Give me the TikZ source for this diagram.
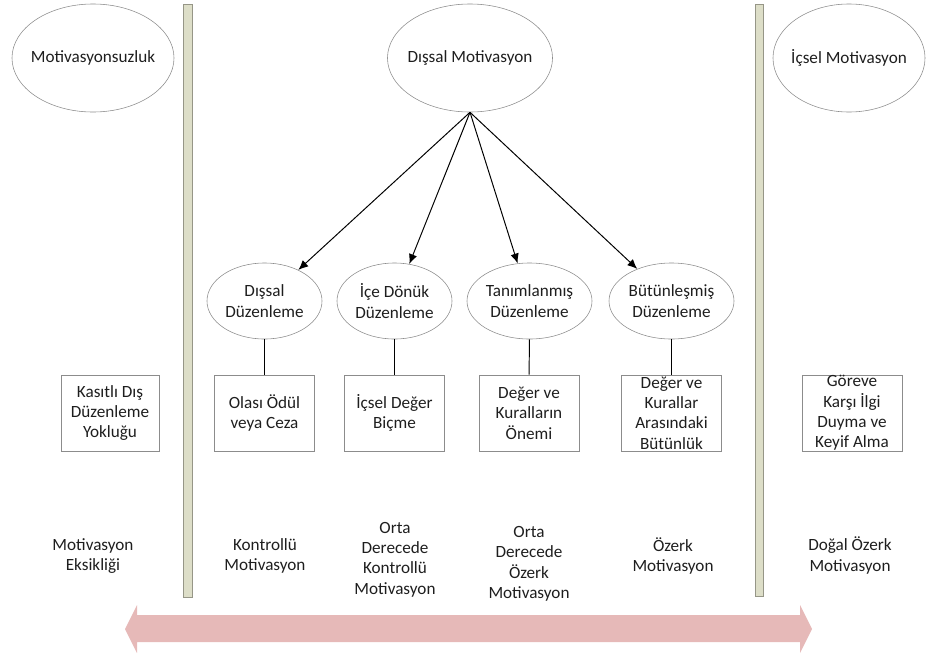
\documentclass[tikz,border=0pt]{standalone}
\usepackage{fontspec}
\setmainfont{Carlito}
\usetikzlibrary{shapes.geometric,arrows.meta}
\definecolor{barfill}{RGB}{221,222,200}
\definecolor{barline}{RGB}{150,150,135}
\definecolor{shapeline}{RGB}{140,140,140}
\definecolor{scalefill}{RGB}{230,185,184}
\definecolor{textcol}{RGB}{30,30,30}
\newcommand{\myfontlabel}{\fontsize{12.2}{14.5}\selectfont}
\begin{document}
\begin{tikzpicture}[x=0.025cm,y=-0.025cm,
	bigoval/.style={ellipse,draw=shapeline,inner xsep=-0.3cm,inner ysep=0pt,minimum width=4.05cm,minimum height=2.7cm},
	smalloval/.style={ellipse,draw=shapeline,inner sep=0pt,minimum width=2.875cm,minimum height=1.9cm,align=center},
	valuebox/.style={rectangle,draw=shapeline,inner sep=0pt,minimum width=2.5cm,minimum height=1.9cm,align=center},
	levellabel/.style={align=center,inner sep=0pt},
	link/.style={line width=0.7pt},
	every node/.style={text=textcol,font=\myfontlabel}]
			%Outer frame
			\useasboundingbox (0,0) rectangle (926,658);
			%Vertical separator bars
			\filldraw[fill=barfill,draw=barline] (183,4) rectangle (192,597);
			\filldraw[fill=barfill,draw=barline] (755,4) rectangle (763,596);
			%The scale arrow at the bottom
			\coordinate (sl) at (125,629);
			\coordinate (sr) at (812,629);
			\fill[scalefill] (sl) -- (137,605) -- (137,615) -- (800,615) -- (800,605) -- (sr)
				-- (800,653) -- (800,642) -- (137,642) -- (137,653) -- cycle;
			%Top row
			\coordinate (top0) at (93,58);
			\coordinate (top1) at (470,58);
			\coordinate (top2) at (849,58);
			\node [bigoval] (amot) at (top0) {Motivasyonsuzluk};
			\node [bigoval,minimum width=4.125cm] (dmot) at (top1) {Dışsal Motivasyon};
			\node [bigoval,minimum width=3.8cm] (imot) at (top2) {İçsel Motivasyon};
			%Regulation types
			\coordinate (reg1) at (264.5,301);
			\coordinate (reg2) at (394.5,301);
			\coordinate (reg3) at (529.5,301);
			\coordinate (reg4) at (671.5,301);
			\node [smalloval] (dreg) at (reg1) {Dışsal\\Düzenleme};
			\node [smalloval] (icreg) at (reg2) {İçe Dönük\\Düzenleme};
			\node [smalloval,minimum width=3.125cm] (treg) at (reg3) {Tanımlanmış\\Düzenleme};
			\node [smalloval,minimum width=3.125cm] (breg) at (reg4) {Bütünleşmiş\\Düzenleme};
			%Arrows from the outer motivation
			\draw [link,-{Latex[length=7pt,width=6pt]}] (dmot.south) -- (dreg);
			\draw [link,-{Latex[length=7pt,width=6pt]}] (dmot.south) -- (icreg);
			\draw [link,-{Latex[length=7pt,width=6pt]}] (dmot.south) -- (treg);
			\draw [link,-{Latex[length=7pt,width=6pt]}] (dmot.south) -- (breg);
			%Boxes
			\coordinate (box0) at (110,413);
			\coordinate (box1) at (264.5,413);
			\coordinate (box2) at (394.5,413);
			\coordinate (box3) at (529,413);
			\coordinate (box4) at (671.5,413);
			\coordinate (box5) at (852,413);
			\node [valuebox,minimum width=2.45cm] (kasit) at (box0) {Kasıtlı Dış\\Düzenleme\\Yokluğu};
			\node [valuebox] (odul) at (box1) {Olası Ödül\\veya Ceza};
			\node [valuebox] (deger) at (box2) {İçsel Değer\\Biçme};
			\node [valuebox] (onem) at (box3) {Değer ve\\Kuralların\\Önemi};
			\node [valuebox] (butun) at (box4) {Değer ve\\Kurallar\\Arasındaki\\Bütünlük};
			\node [valuebox] (ilgi) at (box5) {Göreve\\Karşı İlgi\\Duyma ve\\Keyif Alma};
			%Lines from ellipses to boxes
			\draw [link] (dreg) -- (odul);
			\draw [link] (icreg) -- (deger);
			\draw [link] (treg) -- (onem);
			\draw [link] (breg) -- (butun);
			%Labels at the bottom
			\coordinate (lvl0) at (93,556);
			\coordinate (lvl1) at (265,556);
			\coordinate (lvl2) at (395,559.5);
			\coordinate (lvl3) at (529,564);
			\coordinate (lvl4) at (673,556);
			\coordinate (lvl5) at (850,555.5);
			\node [levellabel] (l0) at (lvl0) {Motivasyon\\Eksikliği};
			\node [levellabel] (l1) at (lvl1) {Kontrollü\\Motivasyon};
			\node [levellabel] (l2) at (lvl2) {Orta\\Derecede\\Kontrollü\\Motivasyon};
			\node [levellabel] (l3) at (lvl3) {Orta\\Derecede\\Özerk\\Motivasyon};
			\node [levellabel] (l4) at (lvl4) {Özerk\\Motivasyon};
			\node [levellabel] (l5) at (lvl5) {Doğal Özerk\\Motivasyon};
\end{tikzpicture}
\end{document}
